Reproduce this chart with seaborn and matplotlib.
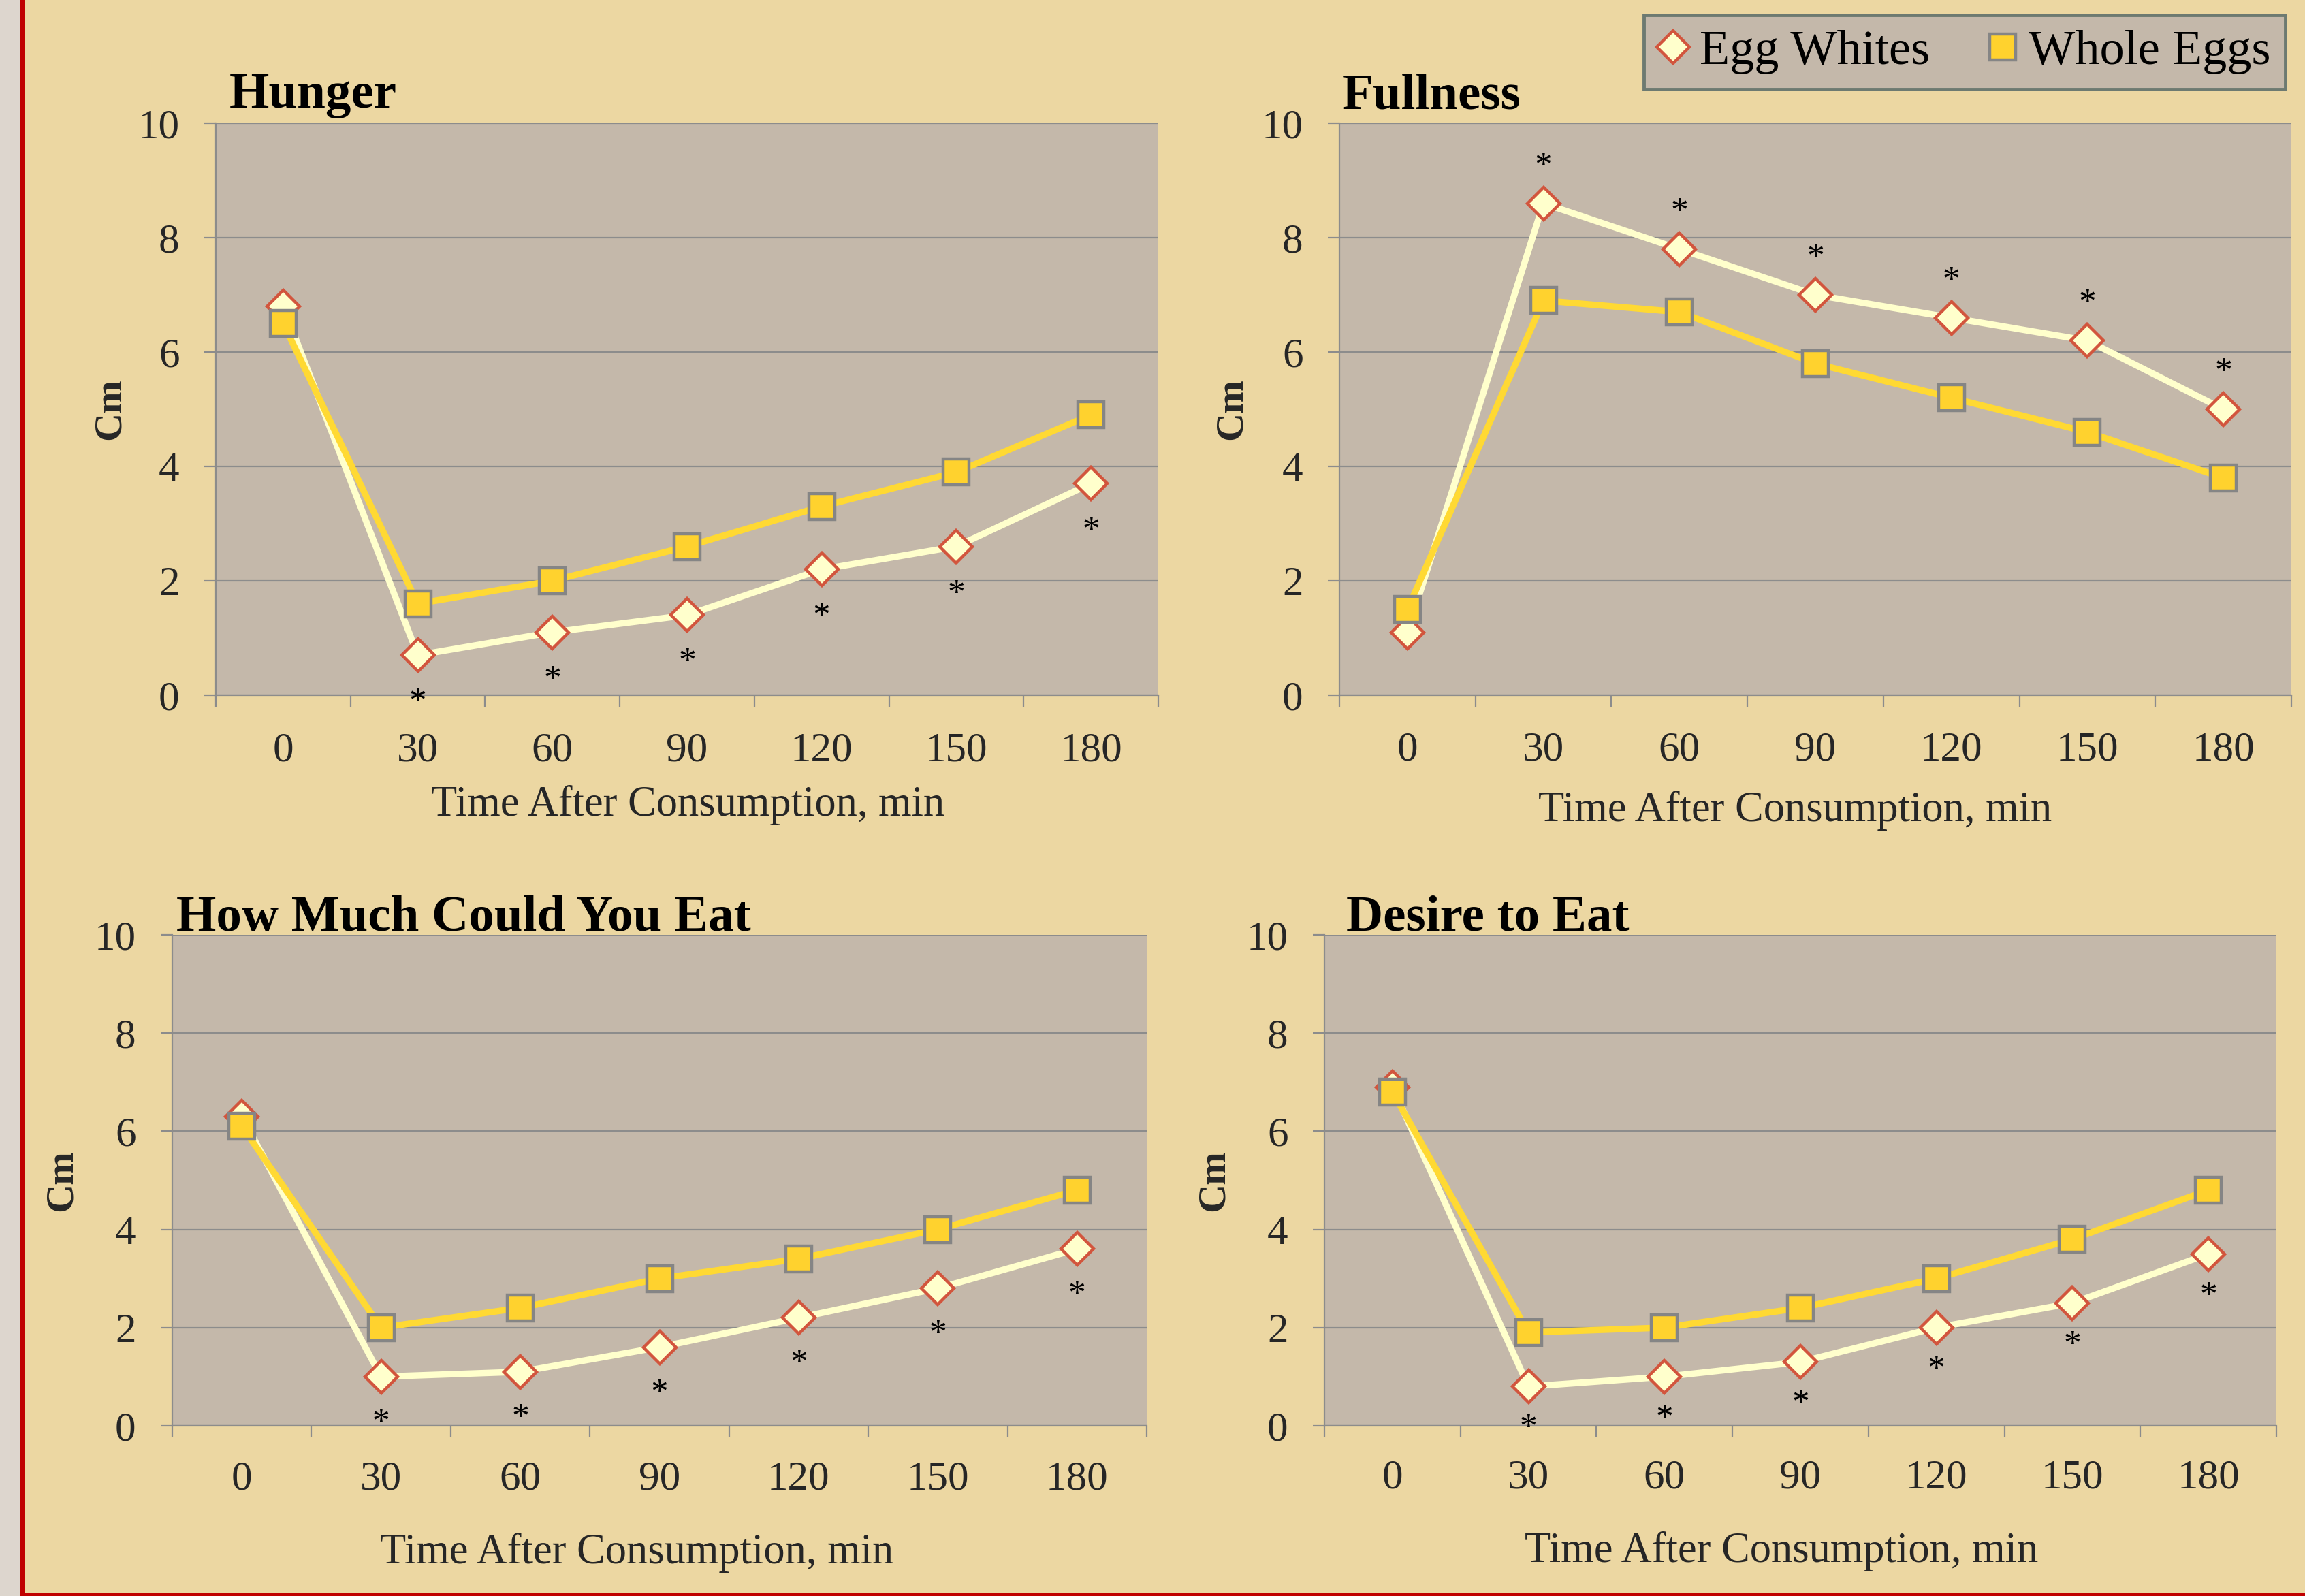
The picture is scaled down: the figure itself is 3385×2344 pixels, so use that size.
import numpy as np
import pandas as pd
import matplotlib
matplotlib.use("Agg")
import matplotlib.pyplot as plt
from matplotlib.lines import Line2D
from matplotlib.patches import Rectangle
import seaborn as sns

# ---------------------------------------------------------------- data
times = ["0", "30", "60", "90", "120", "150", "180"]
groups = ["Egg Whites", "Whole Eggs"]
panel_titles = ["Hunger", "Fullness", "How Much Could You Eat", "Desire to Eat"]

hunger_egg_whites = [6.8, 0.7, 1.1, 1.4, 2.2, 2.6, 3.7]
hunger_whole_eggs = [6.5, 1.6, 2.0, 2.6, 3.3, 3.9, 4.9]

fullness_egg_whites = [1.1, 8.6, 7.8, 7.0, 6.6, 6.2, 5.0]
fullness_whole_eggs = [1.5, 6.9, 6.7, 5.8, 5.2, 4.6, 3.8]

how_much_egg_whites = [6.3, 1.0, 1.1, 1.6, 2.2, 2.8, 3.6]
how_much_whole_eggs = [6.1, 2.0, 2.4, 3.0, 3.4, 4.0, 4.8]

desire_egg_whites = [6.9, 0.8, 1.0, 1.3, 2.0, 2.5, 3.5]
desire_whole_eggs = [6.8, 1.9, 2.0, 2.4, 3.0, 3.8, 4.8]

# time points with a significant difference between the two breakfasts
significant = [False, True, True, True, True, True, True]

y_ticks = [0, 2, 4, 6, 8, 10]

# ---------------------------------------------------------------- style
sns.set_style("white")
plt.rcParams["font.family"] = ["Liberation Serif", "DejaVu Serif"]
plt.rcParams["text.color"] = "black"

W, H = 3385, 2344
DPI = 100
PAPER = "#ecd7a2"
PANEL_BG = "#c4b8aa"
GRID = "#8c8c8c"

EW_LINE, EW_FACE, EW_EDGE = "#ffffcc", "#ffffcc", "#d2553d"
WE_LINE, WE_FACE, WE_EDGE = "#ffd933", "#ffd22e", "#858585"

LW = 6.8
DIAMOND_MS = 24.8
SQUARE_MS = 27
MEW = 3.2

fig = plt.figure(figsize=(W / DPI, H / DPI), dpi=DPI)
fig.patch.set_facecolor(PAPER)

# slide frame: grey margin, red rules on the left and bottom
fig.add_artist(Rectangle((0, 0), 29 / W, 1, transform=fig.transFigure,
                         facecolor="#ddd6ce", edgecolor="none", zorder=-5))
fig.add_artist(Rectangle((29 / W, 0), 7 / W, 1, transform=fig.transFigure,
                         facecolor="#c00000", edgecolor="none", zorder=-4))
fig.add_artist(Rectangle((29 / W, 0), 1, 5 / H, transform=fig.transFigure,
                         facecolor="#c00000", edgecolor="none", zorder=-4))


def px_rect(left, top, right, bottom):
    return [left / W, 1 - bottom / H, (right - left) / W, (bottom - top) / H]


panels = [
    dict(title=panel_titles[0], ew=hunger_egg_whites, we=hunger_whole_eggs,
         rect=px_rect(317, 181, 1701, 1021), title_xy=(0.0145, 1.027),
         ylab_x=-0.112, xlab=(0.501, -0.2107), xpad=39, star_dy=-82),
    dict(title=panel_titles[1], ew=fullness_egg_whites, we=fullness_whole_eggs,
         rect=px_rect(1967, 181, 3365, 1021), title_xy=(0.003, 1.025),
         ylab_x=-0.113, xlab=(0.4785, -0.220), xpad=38, star_dy=42),
    dict(title=panel_titles[2], ew=how_much_egg_whites, we=how_much_whole_eggs,
         rect=px_rect(253, 1373, 1684, 2094), title_xy=(0.004, 1.008),
         ylab_x=-0.1132, xlab=(0.4766, -0.280), xpad=37, star_dy=-80),
    dict(title=panel_titles[3], ew=desire_egg_whites, we=desire_whole_eggs,
         rect=px_rect(1945, 1373, 3343, 2094), title_xy=(0.023, 1.0097),
         ylab_x=-0.1159, xlab=(0.480, -0.277), xpad=35, star_dy=-74),
]

for p in panels:
    ax = fig.add_axes(p["rect"])
    ax.set_facecolor(PANEL_BG)

    df = pd.DataFrame({
        "time": times * 2,
        "score": list(p["ew"]) + list(p["we"]),
        "group": [groups[0]] * len(times) + [groups[1]] * len(times),
    })

    sns.pointplot(data=df[df["group"] == groups[0]], x="time", y="score",
                  order=times, color=EW_LINE, errorbar=None, ax=ax,
                  marker="D", markersize=DIAMOND_MS, markerfacecolor=EW_FACE,
                  markeredgecolor=EW_EDGE, markeredgewidth=MEW,
                  linewidth=LW, zorder=3)
    sns.pointplot(data=df[df["group"] == groups[1]], x="time", y="score",
                  order=times, color=WE_LINE, errorbar=None, ax=ax,
                  marker="s", markersize=SQUARE_MS, markerfacecolor=WE_FACE,
                  markeredgecolor=WE_EDGE, markeredgewidth=MEW,
                  linewidth=LW, zorder=4)

    # asterisks next to the egg-white points
    for i, (val, sig) in enumerate(zip(p["ew"], significant)):
        if sig:
            ax.annotate("*", xy=(i, val), xytext=(0, p["star_dy"]),
                        textcoords="offset pixels", ha="center", va="baseline",
                        fontsize=37, zorder=6)

    ax.set_ylim(0, 10)
    ax.set_xlim(-0.5, len(times) - 0.5)
    ax.set_yticks(y_ticks)
    ax.set_xticks(range(len(times)), labels=times)
    ax.set_xticks(np.arange(-0.5, len(times), 1.0), minor=True)

    ax.tick_params(axis="y", which="major", length=12, width=1.6, color=GRID,
                   direction="out", pad=26.5, labelsize=44, left=True)
    ax.tick_params(axis="x", which="major", length=0, pad=p["xpad"],
                   labelsize=44, bottom=True)
    ax.tick_params(axis="x", which="minor", length=12, width=1.6, color=GRID,
                   direction="out", bottom=True)

    ax.yaxis.grid(True, color=GRID, linewidth=1.6)
    ax.xaxis.grid(False)
    ax.set_axisbelow(True)
    for side in ("top", "right"):
        ax.spines[side].set_visible(False)
    for side in ("left", "bottom"):
        ax.spines[side].set_color(GRID)
        ax.spines[side].set_linewidth(1.6)

    ax.set_ylabel("Cm", fontsize=42, fontweight="bold")
    ax.yaxis.set_label_coords(p["ylab_x"], 0.5)
    ax.yaxis.label.set_va("center")

    ax.set_xlabel("Time After Consumption, min", fontsize=45)
    ax.xaxis.set_label_coords(*p["xlab"])
    ax.xaxis.label.set_va("baseline")

    ax.text(p["title_xy"][0], p["title_xy"][1], p["title"], transform=ax.transAxes,
            fontsize=54, fontweight="bold", ha="left", va="baseline")

handles = [
    Line2D([], [], linestyle="none", marker="D", markersize=DIAMOND_MS,
           markerfacecolor=EW_FACE, markeredgecolor=EW_EDGE, markeredgewidth=MEW),
    Line2D([], [], linestyle="none", marker="s", markersize=SQUARE_MS,
           markerfacecolor=WE_FACE, markeredgecolor=WE_EDGE, markeredgewidth=MEW),
]
leg = fig.legend(handles, groups, loc="upper right",
                 bbox_to_anchor=(3356 / W, 1 - 22 / H), bbox_transform=fig.transFigure,
                 ncol=2, fontsize=52, frameon=True, fancybox=False, framealpha=1,
                 facecolor=PANEL_BG, edgecolor="#6d7a71", borderpad=0.3,
                 handlelength=0.6, handletextpad=0.23, columnspacing=1.18,
                 borderaxespad=0)
leg.get_frame().set_linewidth(3.5)

fig.savefig("out.png", dpi=DPI, facecolor=fig.get_facecolor())
